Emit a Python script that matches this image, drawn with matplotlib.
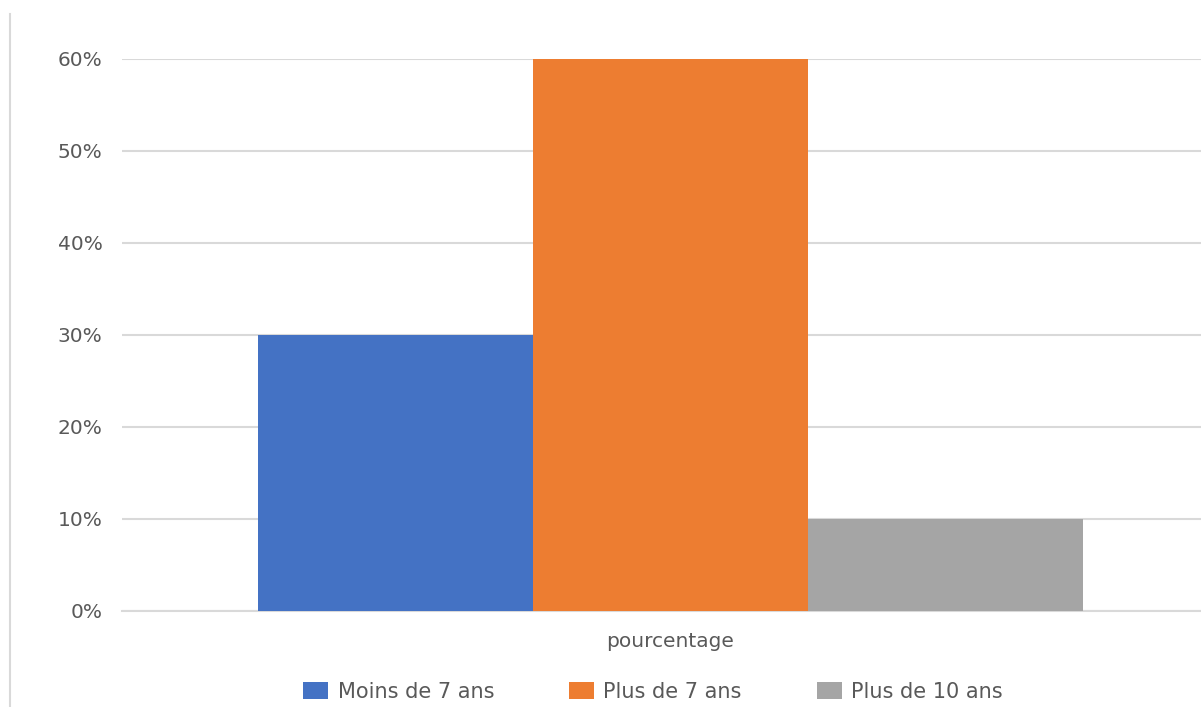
import matplotlib.pyplot as plt
from matplotlib.lines import Line2D
from matplotlib.ticker import PercentFormatter

# Data
category = 'pourcentage'
series_names = ['Moins de 7 ans', 'Plus de 7 ans', 'Plus de 10 ans']
series_values = [0.30, 0.60, 0.10]
series_colors = ['#4472C4', '#ED7D31', '#A5A5A5']
y_ticks = [0, 0.1, 0.2, 0.3, 0.4, 0.5, 0.6]

text_color = '#595959'
grid_color = '#D9D9D9'
plt.rcParams['font.family'] = ['DejaVu Sans']

fig = plt.figure(figsize=(12.01, 7.07), dpi=100)
# plot area: left edge ~122px, extends a bit past the right border
ax = fig.add_axes([122 / 1201, 1 - 611 / 707, 1097 / 1201, (611 - 59) / 707])

bar_width = 0.2507
offsets = [-bar_width, 0, bar_width]
for name, val, col, off in zip(series_names, series_values, series_colors, offsets):
    ax.bar(off, val, bar_width, color=col, label=name, zorder=3)

ax.set_xlim(-0.5, 0.5)
ax.set_ylim(0, 0.6)
ax.set_yticks(y_ticks)
ax.yaxis.set_major_formatter(PercentFormatter(1.0, decimals=0))
ax.set_xticks([0])
ax.set_xticklabels([category])

ax.grid(axis='y', color=grid_color, linewidth=1.5, zorder=0)
for side in ['top', 'right', 'left']:
    ax.spines[side].set_visible(False)
ax.spines['bottom'].set_color(grid_color)
ax.spines['bottom'].set_linewidth(1.5)

ax.tick_params(axis='y', length=0, pad=14, labelsize=14.5, labelcolor=text_color)
ax.tick_params(axis='x', length=0, pad=15, labelsize=14.5, labelcolor=text_color)

fig.legend(loc='center', bbox_to_anchor=(653 / 1201, 1 - 692 / 707), ncol=3,
           frameon=False, fontsize=15, labelcolor=text_color,
           handlelength=1.2, handleheight=0.85, handletextpad=0.45, columnspacing=3.6)

# outer chart frame line at the left
fig.add_artist(Line2D([10 / 1201, 10 / 1201], [0, 1 - 14 / 707],
                      transform=fig.transFigure, color=grid_color, linewidth=1.5))

fig.savefig('out.png', dpi=100)
